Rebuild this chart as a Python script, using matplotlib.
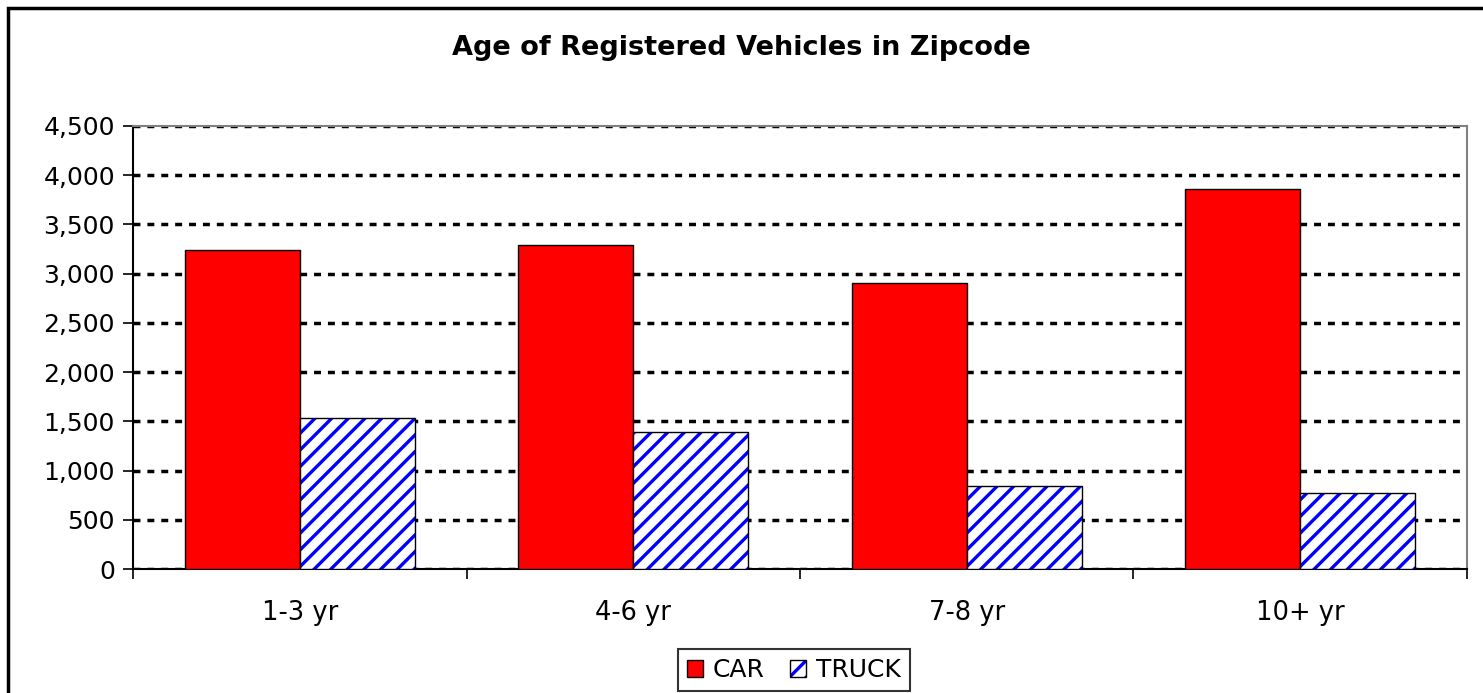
import matplotlib.pyplot as plt
import matplotlib.patches as patches
from matplotlib.legend_handler import HandlerTuple
import numpy as np

# Data
categories = ['1-3 yr', '4-6 yr', '7-8 yr', '10+ yr']
car = [3240, 3290, 2905, 3865]
truck = [1535, 1395, 845, 775]
yticks = [0, 500, 1000, 1500, 2000, 2500, 3000, 3500, 4000, 4500]

plt.rcParams['font.family'] = ['DejaVu Sans']
plt.rcParams['hatch.linewidth'] = 2.4

fig = plt.figure(figsize=(14.83, 6.93), dpi=100)
ax = fig.add_axes([0.0897, 0.1789, 0.8995, 0.6393])

x = np.arange(len(categories))
w = 0.345
ax.bar(x - w / 2, car, width=w, color='#ff0000', edgecolor='black', linewidth=1.0, zorder=3)
# hatched fill in blue, then a black outline on top
ax.bar(x + w / 2, truck, width=w, color='white', edgecolor='#0000ff', linewidth=0,
       hatch='//', zorder=3)
ax.bar(x + w / 2, truck, width=w, fill=False, edgecolor='black', linewidth=1.0, zorder=4)

ax.set_xlim(-0.5, len(categories) - 0.5)
ax.set_ylim(0, 4500)
ax.set_yticks(yticks)
ax.set_yticklabels([f'{v:,}' for v in yticks], fontsize=18)
ax.set_xticks(x)
ax.set_xticklabels(categories, fontsize=18.5)
ax.set_xticks(np.arange(len(categories) + 1) - 0.5, minor=True)
ax.tick_params(axis='x', which='major', length=0, pad=22)
ax.tick_params(axis='x', which='minor', length=7, width=1.2, direction='out')
ax.tick_params(axis='y', length=7, width=1.2, direction='out', pad=6)

ax.yaxis.grid(True, color='black', linestyle=(0, (2, 2)), linewidth=2.5, zorder=1)
ax.set_axisbelow(True)
for s in ['top', 'right']:
    ax.spines[s].set_color('#808080')
    ax.spines[s].set_linewidth(1.5)
for s in ['left', 'bottom']:
    ax.spines[s].set_color('black')
    ax.spines[s].set_linewidth(1.5)

fig.text(0.5, 1 - 48 / 693, 'Age of Registered Vehicles in Zipcode', ha='center', va='center',
         fontsize=19.5, fontweight='bold')

car_h = patches.Patch(facecolor='#ff0000', edgecolor='black', linewidth=1.0)
truck_fill = patches.Patch(facecolor='white', edgecolor='#0000ff', linewidth=0, hatch='//')
truck_edge = patches.Patch(fill=False, edgecolor='black', linewidth=1.0)
leg = ax.legend([car_h, (truck_fill, truck_edge)], ['CAR', 'TRUCK'],
                handler_map={tuple: HandlerTuple(ndivide=1, pad=0)},
                loc='center', bbox_to_anchor=(794 / 1483, 1 - 670 / 693), bbox_transform=fig.transFigure,
                ncol=2, fontsize=18, frameon=True, fancybox=False, edgecolor='black',
                handlelength=0.65, handleheight=0.65, handletextpad=0.4, columnspacing=1.0,
                borderpad=0.35)
leg.get_frame().set_linewidth(1.5)

# outer chart border
fig.patches.append(patches.Rectangle((8 / 1483, -0.1), 1.2, 1 - 8 / 693 + 0.1, transform=fig.transFigure,
                                     fill=False, edgecolor='black', linewidth=2.5))

fig.savefig('out.png', dpi=100)
